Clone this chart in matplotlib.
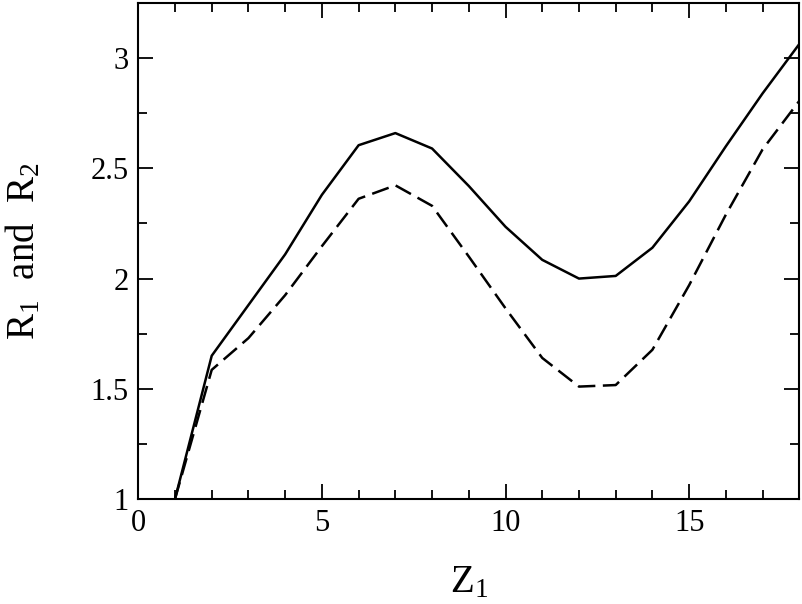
import matplotlib
matplotlib.use("Agg")
import matplotlib.pyplot as plt
from matplotlib.ticker import MultipleLocator

z1 = [1, 2, 3, 4, 5, 6, 7, 8, 9, 10, 11, 12, 13, 14, 15, 16, 17, 18]
r1 = [1.0, 1.65, 1.88, 2.11, 2.38, 2.605, 2.66, 2.59, 2.42, 2.235, 2.085,
      2.0, 2.012, 2.14, 2.35, 2.60, 2.84, 3.064]
r2 = [1.0, 1.586, 1.73, 1.925, 2.147, 2.362, 2.423, 2.33, 2.10, 1.865, 1.64,
      1.51, 1.517, 1.677, 1.97, 2.29, 2.586, 2.806]

plt.rcParams['font.family'] = ['Liberation Serif', 'DejaVu Serif']
plt.rcParams['mathtext.fontset'] = 'custom'
plt.rcParams['mathtext.rm'] = 'Liberation Serif'
plt.rcParams['mathtext.it'] = 'Liberation Serif'

fig = plt.figure(figsize=(8.03, 6.04), dpi=100)
ax = fig.add_axes([0.1722, 0.1738, 0.8232, 0.8212])

ax.plot(z1, r1, color='black', lw=1.8, ls='-')
ax.plot(z1, r2, color='black', lw=1.8, ls=(0, (7, 3)))

ax.set_xlim(0, 18)
ax.set_ylim(1, 3.25)
ax.xaxis.set_major_locator(MultipleLocator(5))
ax.xaxis.set_minor_locator(MultipleLocator(1))
ax.yaxis.set_major_locator(MultipleLocator(0.5))
ax.yaxis.set_minor_locator(MultipleLocator(0.25))
ax.set_yticks([1, 1.5, 2, 2.5, 3])
ax.set_yticklabels(['1', '1.5', '2', '2.5', '3'])

ax.tick_params(which='both', direction='in', top=True, right=True,
               labelsize=22, width=1.3)
ax.tick_params(which='major', length=11, pad=7)
ax.tick_params(which='minor', length=6.5)
for s in ax.spines.values():
    s.set_linewidth(1.5)

ax.set_xlabel(r'$\mathrm{Z_1}$', fontsize=28, labelpad=19)
ax.set_ylabel(r'$\mathrm{R_1\ \ and\ \ R_2}$', fontsize=28, labelpad=34)

fig.savefig('out.png', dpi=100)
